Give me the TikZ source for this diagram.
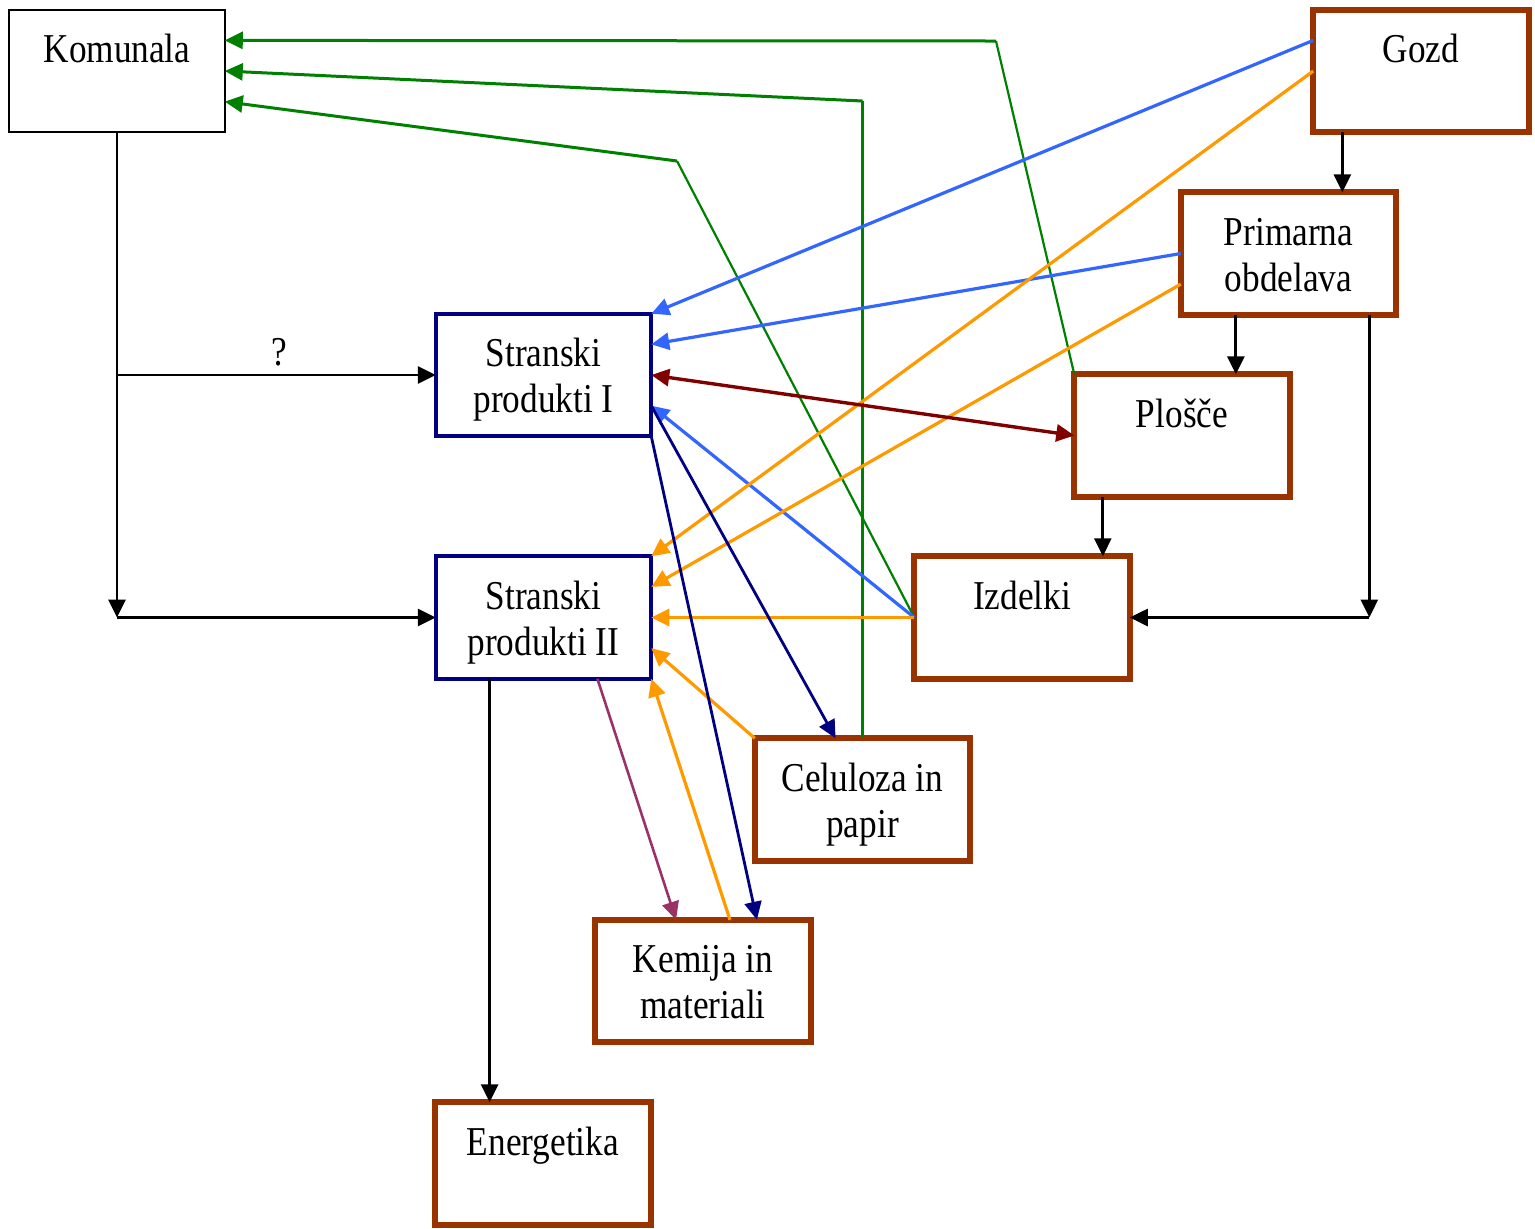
\documentclass[tikz,border=0pt]{standalone}
\usepackage{fontspec}
\setmainfont{Liberation Serif}[FakeStretch=0.86]
\usetikzlibrary{arrows.meta,calc}
\definecolor{brn}{RGB}{153,51,0}
\definecolor{nvy}{RGB}{0,0,128}
\definecolor{grn}{RGB}{0,128,0}
\definecolor{blu}{RGB}{51,102,255}
\definecolor{org}{RGB}{255,153,0}
\definecolor{drd}{RGB}{128,0,0}
\definecolor{prp}{RGB}{153,51,102}
\begin{document}
\begin{tikzpicture}[x=0.5pt,y=-0.5pt,
  >={Triangle[length=9pt,width=8.5pt]},
  bx/.style={inner sep=0pt, outer sep=0pt, minimum width=107.75pt, minimum height=61.25pt, fill=white},
  brownbox/.style={bx, draw=brn, line width=3pt},
  navybox/.style={bx, draw=nvy, line width=2pt},
  plainbox/.style={bx, draw=black, line width=1pt},
  lbl/.style={anchor=base, inner sep=0pt, font=\fontsize{20.5}{23}\selectfont},
  blk/.style={draw=black, line width=1.4pt, ->},
  grnthin/.style={draw=grn, line width=1.1pt},
  grnthick/.style={draw=grn, line width=1.5pt, ->},
  bluline/.style={draw=blu, line width=1.6pt, ->},
  orgline/.style={draw=org, line width=1.6pt, ->},
  nvyline/.style={draw=nvy, line width=1.4pt, ->},
  prpline/.style={draw=prp, line width=1.3pt, ->},
  drdline/.style={draw=drd, line width=1.7pt, <->},
]
\useasboundingbox (0,0) rectangle (1535,1228);
% boxes
\node[plainbox] (kom) at (117,71) {};
\node[brownbox] (gozd) at (1421,71) {};
\node[brownbox] (prim) at (1288.5,253.5) {};
\node[brownbox] (plos) at (1182,435.5) {};
\node[brownbox] (izd) at (1022,617.5) {};
\node[navybox] (sp1) at (543.5,375) {};
\node[navybox] (sp2) at (543.5,617.5) {};
\node[brownbox] (cel) at (862.5,799.5) {};
\node[brownbox] (kem) at (703,981) {};
\node[brownbox] (ene) at (543,1163.5) {};
% texts
\node[lbl] (tkom) at ($(kom.north)+(0,53)$) {Komunala};
\node[lbl] (tgozd) at ($(gozd.north)+(0,53)$) {Gozd};
\node[lbl] (tprim) at ($(prim.north)+(0,53)$) {\parbox[t]{105pt}{\centering Primarna\\obdelava}};
\node[lbl] (tplos) at ($(plos.north)+(0,53)$) {Plošče};
\node[lbl] (tizd) at ($(izd.north)+(0,53)$) {Izdelki};
\node[lbl] (tsp1) at ($(sp1.north)+(0,53)$) {\parbox[t]{105pt}{\centering Stranski\\produkti I}};
\node[lbl] (tsp2) at ($(sp2.north)+(0,53)$) {\parbox[t]{105pt}{\centering Stranski\\produkti II}};
\node[lbl] (tcel) at ($(cel.north)+(0,53)$) {\parbox[t]{105pt}{\centering Celuloza in\\papir}};
\node[lbl] (tkem) at ($(kem.north)+(0,53)$) {\parbox[t]{105pt}{\centering Kemija in\\materiali}};
\node[lbl] (tene) at ($(ene.north)+(0,53)$) {Energetika};
% helper coordinates
\coordinate (kj1) at (kom.south |- sp1.west);
\coordinate (kj2) at (kom.south |- sp2.west);
\coordinate (primT) at ($(prim.north west)!0.75!(prim.north east)$);
\coordinate (plosT) at ($(plos.north west)!0.75!(plos.north east)$);
\coordinate (izdT) at ($(izd.north west)!0.875!(izd.north east)$);
\coordinate (primB) at ($(prim.south west)!0.875!(prim.south east)$);
\coordinate (pj) at (primB |- izd.east);
\coordinate (sp2B1) at ($(sp2.south west)!0.25!(sp2.south east)$);
\coordinate (sp2B3) at ($(sp2.south west)!0.75!(sp2.south east)$);
\coordinate (komE1) at ($(kom.north east)!0.25!(kom.south east)$);
\coordinate (komE3) at ($(kom.north east)!0.75!(kom.south east)$);
\coordinate (g1) at (996,41);
\coordinate (g2) at (cel.north |- 0,101);
\coordinate (g3) at (677,161);
\coordinate (gozdW1) at ($(gozd.north west)!0.25!(gozd.south west)$);
\coordinate (primW3) at ($(prim.north west)!0.75!(prim.south west)$);
\coordinate (sp1E1) at ($(sp1.north east)!0.25!(sp1.south east)$);
\coordinate (sp1E3) at ($(sp1.north east)!0.75!(sp1.south east)$);
\coordinate (sp2E1) at ($(sp2.north east)!0.25!(sp2.south east)$);
\coordinate (sp2E3) at ($(sp2.north east)!0.75!(sp2.south east)$);
\coordinate (celT) at ($(cel.north west)!0.375!(cel.north east)$);
\coordinate (kemT1) at ($(kem.north west)!0.375!(kem.north east)$);
\coordinate (kemT2) at ($(kem.north west)!0.625!(kem.north east)$);
\coordinate (kemT3) at ($(kem.north west)!0.75!(kem.north east)$);
% black connectors
\draw[blk] (kom.south) -- (kj2);
\draw[blk] (kj1) -- (sp1.west);
\node[lbl] (q) at ($(kj1)!0.51!(sp1.west)+(0,-10)$) {?};
\draw[blk] (kj2) -- (sp2.west);
\draw[blk] (primT |- gozd.south) -- (primT);
\draw[blk] (plosT |- prim.south) -- (plosT);
\draw[blk] (izdT |- plos.south) -- (izdT);
\draw[blk] (primB) -- (pj);
\draw[blk] (pj) -- (izd.east);
\draw[blk] (sp2B1) -- (sp2B1 |- ene.north);
% green
\draw[grnthin] (plos.north west) -- (g1);
\draw[grnthick] (g1) -- (komE1);
\draw[grnthin] (cel.north) -- (g2);
\draw[grnthick] (g2) -- (kom.east);
\draw[grnthin] (izd.west) -- (g3);
\draw[grnthick] (g3) -- (komE3);
% blue
\draw[bluline] (gozdW1) -- (sp1.north east);
\draw[bluline] (prim.west) -- (sp1E1);
\draw[bluline] (izd.west) -- (sp1E3);
% orange
\draw[orgline] (gozd.west) -- (sp2.north east);
\draw[orgline] (primW3) -- (sp2E1);
\draw[orgline] (izd.west) -- (sp2.east);
\draw[orgline] (cel.north west) -- (sp2E3);
\draw[orgline] (kemT2) -- (sp2.south east);
% dark red
\draw[drdline] (sp1.east) -- (plos.west);
% navy
\draw[nvyline] (sp1E3) -- (celT);
\draw[nvyline] (sp1.south east) -- (kemT3);
% purple
\draw[prpline] (sp2B3) -- (kemT1);
\end{tikzpicture}
\end{document}
